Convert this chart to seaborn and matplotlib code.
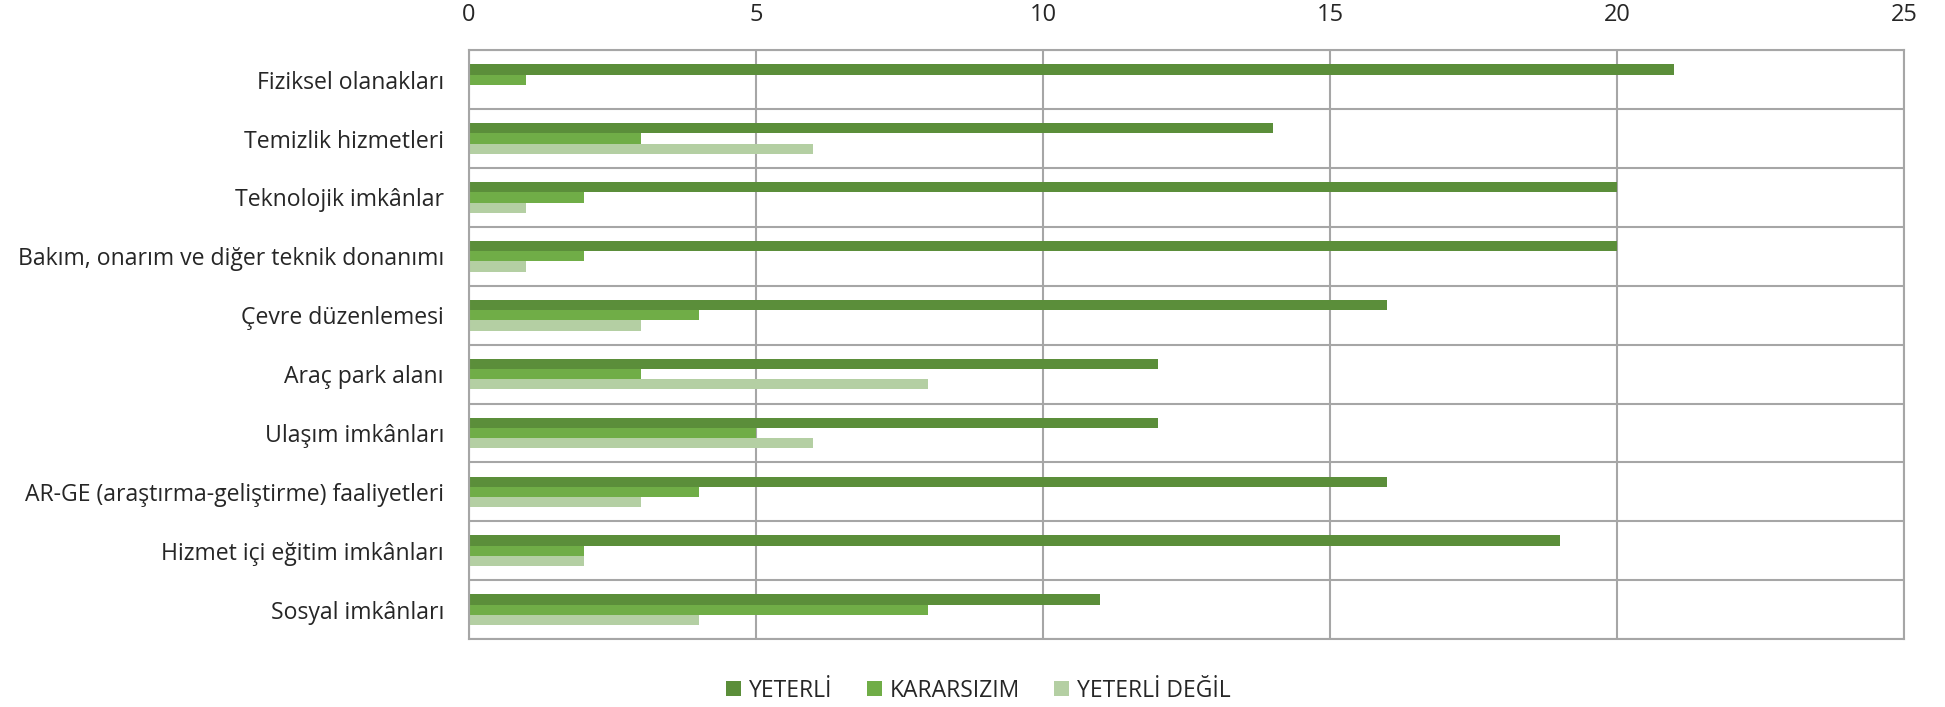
import numpy as np
import pandas as pd
import matplotlib.pyplot as plt
import seaborn as sns

# data
categories = ['Fiziksel olanakları', 'Temizlik hizmetleri', 'Teknolojik imkânlar',
              'Bakım, onarım ve diğer teknik donanımı', 'Çevre düzenlemesi',
              'Araç park alanı', 'Ulaşım imkânları',
              'AR-GE (araştırma-geliştirme) faaliyetleri',
              'Hizmet içi eğitim imkânları', 'Sosyal imkânları']
yeterli = [21, 14, 20, 20, 16, 12, 12, 16, 19, 11]
kararsizim = [1, 3, 2, 2, 4, 3, 5, 4, 2, 8]
yeterli_degil = [0, 6, 1, 1, 3, 8, 6, 3, 2, 4]
series = ['YETERLİ', 'KARARSIZIM', 'YETERLİ DEĞİL']
colors = ['#5B8E3A', '#70AD47', '#B4CFA3']

df = pd.DataFrame({'Kategori': categories, series[0]: yeterli,
                   series[1]: kararsizim, series[2]: yeterli_degil})
df_long = df.melt(id_vars='Kategori', var_name='Durum', value_name='Sayi')

sns.set_style('white')
plt.rcParams['font.family'] = ['Open Sans', 'DejaVu Sans']

fig = plt.figure(figsize=(19.45, 7.07), dpi=100)
ax = fig.add_axes([0.2411, 0.096, 0.7378, 0.833])

sns.barplot(data=df_long, y='Kategori', x='Sayi', hue='Durum', orient='h',
            order=categories, hue_order=series, palette=colors, width=0.52,
            ax=ax, legend=True, saturation=1, edgecolor='none')

grid_c = '#A6A6A6'
ax.set_xlim(0, 25)
ax.set_ylim(len(categories) - 0.5, -0.5)
ax.set_xticks(np.arange(0, 26, 5))
ax.xaxis.tick_top()
ax.tick_params(axis='x', length=0, labelsize=17, pad=17)
ax.tick_params(axis='y', which='major', length=0, labelsize=16.6, pad=18)
ax.set_yticks(np.arange(-0.5, len(categories), 1), minor=True)
ax.tick_params(axis='y', which='minor', length=8, color=grid_c, width=1.5)
ax.grid(axis='x', color=grid_c, linewidth=1.5)
ax.grid(axis='y', which='minor', color=grid_c, linewidth=1.5)
ax.set_axisbelow(True)
for s in ax.spines.values():
    s.set_color(grid_c)
    s.set_linewidth(1.5)
ax.set_xlabel('')
ax.set_ylabel('')

handles, labels = ax.get_legend_handles_labels()
ax.legend_.remove()
fig.legend(handles, labels, loc='center', bbox_to_anchor=(0.503, 0.023), ncol=3,
           frameon=False, fontsize=16.5, handlelength=0.65, handleheight=0.65,
           handletextpad=0.35, columnspacing=1.5)

plt.savefig('out.png', dpi=100)
